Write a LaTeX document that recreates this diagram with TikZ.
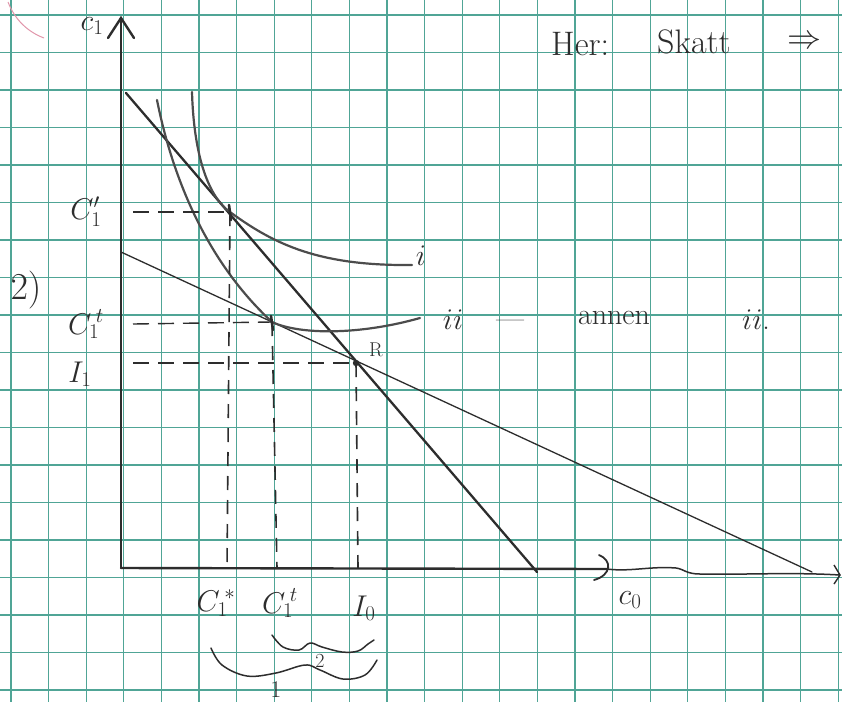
\RequirePackage{fix-cm}
\documentclass[tikz,border=0pt]{standalone}
\usepackage{fontspec}
\usetikzlibrary{decorations.pathreplacing}
\definecolor{gridc}{RGB}{80,165,150}
\definecolor{ink}{RGB}{45,45,45}
\definecolor{pinkc}{RGB}{225,150,170}
\tikzset{
  grd/.style={gridc, line width=1.1pt},
  axisl/.style={ink, line width=2.4pt, line cap=round},
  thickl/.style={ink, line width=2.3pt, line cap=round},
  thinl/.style={ink, line width=1.3pt, line cap=round},
  curvel/.style={ink!85, line width=2.2pt, line cap=round},
  hdash/.style={ink, line width=1.4pt, dash pattern=on 16pt off 9pt},
  vdash/.style={ink, line width=1.6pt, dash pattern=on 14pt off 10pt},
  lbl/.style={ink, font=\fontsize{30}{34}\selectfont, inner sep=1pt},
  slbl/.style={ink, font=\fontsize{20}{24}\selectfont, inner sep=1pt},
  brcl/.style={ink, line width=1.5pt, line cap=round}
}
\begin{document}
\begin{tikzpicture}[x=1pt,y=-1pt]
\useasboundingbox (0,0) rectangle (842,702);
\fill[white] (0,0) rectangle (842,702);
% grid
\foreach \k in {0,...,22} {\draw[grd] ({11+37.6*\k},0) -- ({11+37.6*\k},702);}
\foreach \k in {0,...,18} {\draw[grd] (0,{15+37.5*\k}) -- (842,{15+37.5*\k});}
% margin arc
\draw[pinkc, line width=1pt] (8,2) .. controls (15,20) and (28,32) .. (44,38);
% axes
\coordinate (O) at (121,568);
\coordinate (ytop) at (121,18);
\coordinate (xmid) at (607,569);
\coordinate (xend) at (840,575);
\draw[axisl] (O) -- (ytop);
\draw[axisl] (108,38) -- (ytop) -- (134,38);
\draw[axisl] (O) -- (xmid);
\draw[ink, line width=1.8pt, line cap=round] (599,555) .. controls (612,560) and (612,575) .. (594,580);
\draw[ink, line width=1.5pt] (xmid) .. controls (630,572) and (650,566) .. (676,568) .. controls (684,569) and (686,574) .. (700,574) .. controls (740,575) and (790,572) .. (xend);
\draw[ink, line width=1.4pt] (834,565) -- (xend) -- (834,584);
% budget lines
\coordinate (a1) at (126,93);
\coordinate (a2) at (537,572);
\coordinate (b1) at (121,252);
\coordinate (b2) at (812,572);
\draw[thickl] (a1) -- (a2);
\draw[thinl] (b1) -- (b2);
% indifference curves
\coordinate (P1) at (230,212);
\coordinate (P2) at (272,322);
\coordinate (R) at (356,363);
\draw[curvel] (192,92) .. controls (194,160) and (210,198) .. (P1) .. controls (275,245) and (320,266) .. (412,265);
\draw[curvel] (157,100) .. controls (172,175) and (205,260) .. (P2) .. controls (300,335) and (360,335) .. (420,318);
% points
\draw[ink, line width=2.6pt, line cap=round] (229,205) -- (231,220);
\draw[ink, line width=2.6pt, line cap=round] (271,316) -- (273,330);
\fill[ink] (R) circle (3.2pt);
% dashed guides
\coordinate (yP1) at (133,212);
\coordinate (yP2) at (133,324);
\coordinate (yR) at (133,363);
\coordinate (xP1) at (227,568);
\coordinate (xP2) at (277,568);
\coordinate (xR) at (358,568);
\draw[hdash] (yP1) -- (P1);
\draw[hdash] (yP2) -- (P2);
\draw[hdash] (yR) -- (R);
\draw[vdash] (P1) -- (xP1);
\draw[vdash] (P2) -- (xP2);
\draw[vdash] (R) -- (xR);
% labels
\node[lbl] (ly) at (92,26) {$c_1$};
\node[lbl, font=\fontsize{38}{42}\selectfont] (l2) at (26,290) {$2)$};
\node[lbl] (lc1) at (86,212) {$C_1'$};
\node[lbl] (lct) at (86,324) {${C_1}^{\!t}$};
\node[lbl] (li1) at (80,374) {$I_1$};
\node[lbl] (lx) at (630,600) {$c_0$};
\node[lbl] (bx1) at (216,603) {${C_1}^{\!*}$};
\node[lbl] (bx2) at (280,603) {${C_1}^{\!t}$};
\node[lbl] (bx3) at (364,608) {$I_0$};
\node[slbl] (lR) at (376,350) {R};
\node[lbl] (li) at (421,256) {$i$};
\node[lbl] (lii) at (453,320) {$ii$};
\node[lbl] (ldash) at (510,324) {---};
\node[lbl] (lann) at (614,318) {annen};
\node[lbl] (lii2) at (756,320) {$ii$.};
\node[lbl, anchor=west, font=\fontsize{34}{38}\selectfont] (lher) at (550,44) {Her:};
\node[lbl, anchor=west, font=\fontsize{34}{38}\selectfont] (lsk) at (656,42) {Skatt};
\node[lbl, font=\fontsize{34}{38}\selectfont] (larr) at (804,42) {$\Rightarrow$};
% braces (hand-drawn)
\draw[brcl] plot[smooth, tension=0.6] coordinates {(272,635) (283,647) (299,650) (310,643) (322,647) (342,652) (358,651) (368,644) (374,640)};
\node[slbl] (n2) at (320,661) {2};
\draw[brcl] plot[smooth, tension=0.6] coordinates {(211,648) (222,665) (247,676) (276,673) (305,665) (320,670) (343,679) (365,675) (377,660)};
\node[lbl, font=\fontsize{24}{28}\selectfont] (n1) at (276,690) {1};
\end{tikzpicture}
\end{document}
